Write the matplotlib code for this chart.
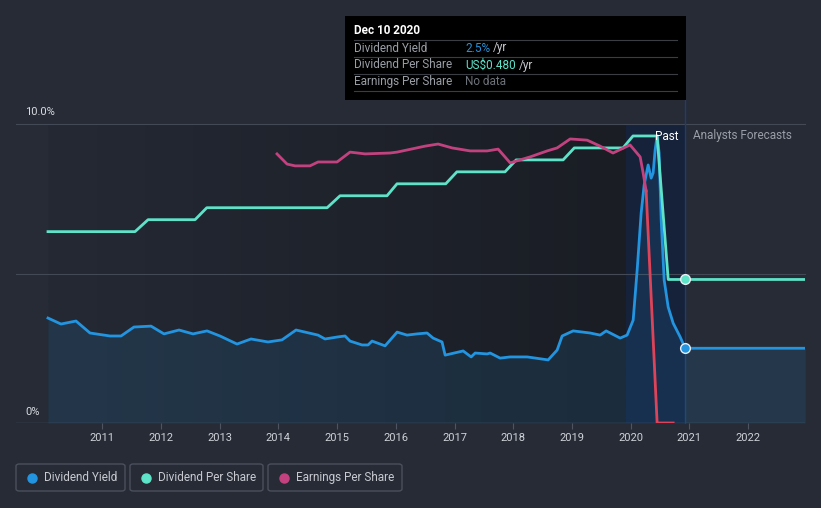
import numpy as np
import matplotlib.pyplot as plt
from matplotlib.patches import FancyBboxPatch, Rectangle
from matplotlib.lines import Line2D
from matplotlib.colors import LinearSegmentedColormap

plt.rcParams['font.family'] = ['Roboto', 'DejaVu Sans']

# dividend yield, %
yield_t = [2010.075, 2010.296, 2010.552, 2010.790, 2011.131, 2011.319, 2011.540, 2011.830,
           2012.051, 2012.307, 2012.545, 2012.784, 2013.005, 2013.295, 2013.533, 2013.823,
           2014.061, 2014.300, 2014.675, 2014.794, 2015.016, 2015.135, 2015.220, 2015.425,
           2015.527, 2015.595, 2015.817, 2016.022, 2016.191, 2016.361, 2016.532, 2016.635,
           2016.787, 2016.840, 2017.147, 2017.283, 2017.351, 2017.556, 2017.607, 2017.777,
           2017.948, 2018.237, 2018.595, 2018.748, 2018.833, 2019.020, 2019.310, 2019.480,
           2019.583, 2019.821, 2019.940, 2020.043, 2020.111, 2020.179, 2020.230, 2020.298,
           2020.349, 2020.383, 2020.417, 2020.451, 2020.485, 2020.520, 2020.571, 2020.639,
           2020.724, 2020.843, 2020.928, 2022.973]
yield_v = [3.51, 3.31, 3.41, 3.01, 2.91, 2.91, 3.21, 3.24,
           2.98, 3.11, 2.98, 3.08, 2.91, 2.64, 2.81, 2.71,
           2.78, 3.11, 2.94, 2.81, 2.88, 2.91, 2.74, 2.61,
           2.61, 2.74, 2.58, 3.04, 2.94, 2.98, 3.01, 2.84,
           2.71, 2.27, 2.41, 2.21, 2.34, 2.31, 2.34, 2.17,
           2.21, 2.21, 2.11, 2.44, 2.91, 3.08, 3.01, 2.94,
           3.08, 2.84, 2.94, 3.44, 5.12, 7.02, 7.96, 8.63,
           8.19, 8.36, 9.13, 9.60, 9.03, 6.79, 4.78, 3.88,
           3.34, 2.88, 2.50, 2.50]

# dividend per share, US$ / yr
dps_t = [2010.075, 2011.557, 2011.78, 2012.58, 2012.78, 2014.83, 2015.05, 2015.85, 2016.02,
         2016.85, 2017.04, 2017.86, 2018.05, 2018.85, 2019.04, 2019.87, 2020.04, 2020.45,
         2020.64, 2020.928, 2022.973]
dps_v = [0.64, 0.64, 0.68, 0.68, 0.72, 0.72, 0.76, 0.76, 0.80,
         0.80, 0.84, 0.84, 0.88, 0.88, 0.92, 0.92, 0.96, 0.96,
         0.48, 0.48, 0.48]

# earnings per share
eps_t = [2013.976, 2014.147, 2014.283, 2014.538, 2014.675, 2014.999, 2015.220, 2015.476,
         2015.902, 2016.022, 2016.499, 2016.720, 2016.959, 2017.266, 2017.556, 2017.743,
         2017.948, 2018.288, 2018.578, 2018.748, 2018.970, 2019.259, 2019.480, 2019.700,
         2019.990, 2020.162, 2020.213, 2020.264]
eps_v = [0.900, 0.866, 0.860, 0.860, 0.873, 0.873, 0.906, 0.900,
         0.903, 0.906, 0.926, 0.933, 0.920, 0.910, 0.910, 0.916,
         0.870, 0.890, 0.910, 0.920, 0.950, 0.946, 0.926, 0.903,
         0.930, 0.890, 0.836, 0.776]
eps_drop_t = [2020.264, 2020.451, 2020.724]
eps_drop_v = [0.776, 0.0, 0.0]

years = list(range(2011, 2023))
past_start, band_start, now = 2010.075, 2019.92, 2020.928

BG = '#262b36'
BLUE = '#2394df'
TEAL = '#5ee3c9'
PINK = '#c2427f'
RED = '#de4459'
GRID = '#434955'

W, H = 821, 508
def fx(x):
    return x / W
def fy(y):
    return 1 - y / H

fig = plt.figure(figsize=(8.21, 5.08), dpi=100, facecolor=BG)
ax = fig.add_axes([fx(16), fy(423), fx(805) - fx(16), fy(124) - fy(423)])
ax.set_facecolor('none')

# darker "past" background with a soft horizontal gradient
cmap = LinearSegmentedColormap.from_list('past', ['#242934', '#1a1d24'])
ax.imshow(np.linspace(0, 1, 256).reshape(1, -1), extent=[past_start, band_start, 0, 10],
          aspect='auto', cmap=cmap, zorder=0)
ax.axvspan(band_start, now, color='#16223a', zorder=0.5, lw=0)

for yv in (5, 10):
    ax.axhline(yv, color=GRID, lw=0.8, zorder=1, clip_on=False)
ax.axhline(0, color='#4e5461', lw=1, zorder=1)

# hover line from the tooltip down to the axis
ax.plot([now, now], [0, 10.8], color='#1f3f6a', lw=1, zorder=1.5, clip_on=False)

ax.fill_between(yield_t, yield_v, 0, color=BLUE, alpha=0.13, lw=0, zorder=2)
ax.plot(yield_t, yield_v, color=BLUE, lw=2, zorder=3, solid_joinstyle='round')
ax.plot([now], [2.5], 'o', ms=7, mfc=BLUE, mec='#e8eef5', mew=1, zorder=6)

ax.set_xlim(2009.53, 2022.97)
ax.set_ylim(0, 10)
ax.set_yticks([])
ax.set_xticks(years)
ax.set_xticklabels([str(y) for y in years])
ax.tick_params(axis='x', length=4, color='#4e5461', labelcolor='#cfd2d7', labelsize=8, pad=3)
for s in ax.spines.values():
    s.set_visible(False)

ax2 = ax.twinx()
ax2.set_ylim(0, 1.0)
ax2.axis('off')
ax2.plot(dps_t, dps_v, color=TEAL, lw=2, zorder=3)
ax2.plot(eps_t, eps_v, color=PINK, lw=2, zorder=4)
ax2.plot(eps_drop_t, eps_drop_v, color=RED, lw=2, zorder=4)
ax2.plot([now], [0.48], 'o', ms=7, mfc=TEAL, mec='#e8eef5', mew=1, zorder=6)

fig.text(fx(25), fy(112), '10.0%', color='#d9dbe0', fontsize=8, va='center')
fig.text(fx(25), fy(412), '0%', color='#d9dbe0', fontsize=8, va='center')
fig.text(fx(678), fy(136), 'Past', color='white', fontsize=8.5, ha='right', va='center')
fig.text(fx(693), fy(136), 'Analysts Forecasts', color='#9a9ea6', fontsize=8.5, va='center')

# tooltip
fig.add_artist(Rectangle((fx(345), fy(100)), fx(686) - fx(345), fy(16) - fy(100),
                         transform=fig.transFigure, facecolor='black', edgecolor='none'))
fig.text(fx(354), fy(31), 'Dec 10 2020', color='white', fontsize=8.5, fontweight='bold', va='center')
rows = [('Dividend Yield', '2.5%', BLUE), ('Dividend Per Share', 'US$0.480', TEAL),
        ('Earnings Per Share', 'No data', '#6d7179')]
for i, (lab, val, col) in enumerate(rows):
    yc = 48 + i * 17
    fig.text(fx(354), fy(yc), lab, color='#9a9ea6', fontsize=8.5, va='center')
    t = fig.text(fx(465), fy(yc), val, color=col, fontsize=8.5, va='center')
    if val != 'No data':
        fig.canvas.draw()
        bb = t.get_window_extent()
        fig.text(bb.x1 / W + fx(3), fy(yc), '/yr', color='#c8cad0', fontsize=8.5, va='center')
for yl in (40, 57, 74, 91):
    fig.add_artist(Line2D([fx(354), fx(677)], [fy(yl), fy(yl)], color='#3a3d44', lw=0.8))

# legend boxes
legend = [('Dividend Yield', BLUE, 16, 125), ('Dividend Per Share', TEAL, 130, 263),
          ('Earnings Per Share', PINK, 268, 402)]
for lab, col, x0, x1 in legend:
    fig.add_artist(FancyBboxPatch((fx(x0), fy(491)), fx(x1) - fx(x0), fy(464) - fy(491),
                                  boxstyle='round,pad=0,rounding_size=0.004',
                                  transform=fig.transFigure, facecolor='none',
                                  edgecolor='#4a505c', lw=1))
    fig.add_artist(Line2D([fx(x0 + 16)], [fy(477.5)], marker='o', ms=6.5, color=col, lw=0))
    fig.text(fx(x0 + 28), fy(477.5), lab, color='#c8cad0', fontsize=8.5, va='center')

fig.savefig('out.png', dpi=100, facecolor=BG)
